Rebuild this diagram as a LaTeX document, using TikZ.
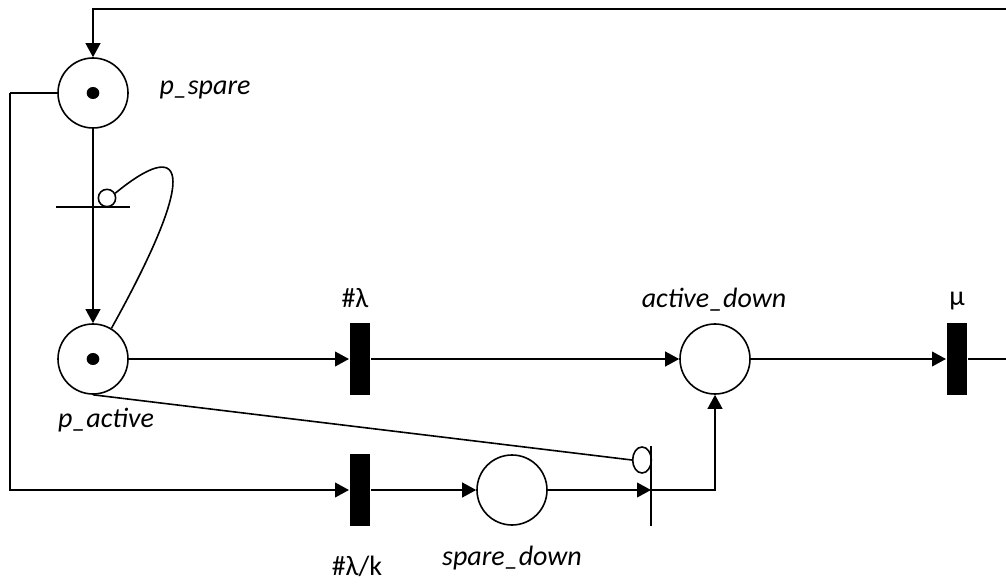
\documentclass[tikz,border=0pt]{standalone}
\usepackage{fontspec}
\setmainfont{Carlito}
\usetikzlibrary{arrows.meta,shapes.geometric}
\begin{document}
\begin{tikzpicture}[x=0.75pt,y=-0.75pt,
  line width=1.5pt,
  place/.style={circle,draw,line width=1.2pt,minimum size=52.5pt,inner sep=0pt},
  timed/.style={rectangle,fill=black,minimum width=15pt,minimum height=54pt,inner sep=0pt},
  token/.style={ellipse,fill=black,minimum width=9.5pt,minimum height=9pt,inner sep=0pt},
  arc/.style={-{Triangle[length=10.5pt,width=11pt]}},
  lbl/.style={font=\fontsize{21pt}{24pt}\selectfont,anchor=base,inner sep=0pt},
  ilbl/.style={lbl,font=\fontsize{21pt}{24pt}\selectfont\itshape}]
\useasboundingbox (0,0) rectangle (1006,584);

% places
\node[place] (ps) at (93,93) {};
\node[place] (pa) at (93,359) {};
\node[place] (ad) at (715,359) {};
\node[place] (sd) at (512,490) {};
\node[token] at (ps) {};
\node[token] at (pa) {};

% timed transitions
\node[timed] (tl) at (360,359) {};
\node[timed] (tk) at (360,490) {};
\node[timed] (mu) at (957,359) {};

% immediate transitions (thin bars)
\node[minimum width=54pt,minimum height=0pt,inner sep=0pt] (ta) at (93,207) {};
\draw[line width=1.2pt] (ta.west) -- (ta.east);
\node[minimum width=0pt,minimum height=58.5pt,inner sep=0pt] (ti) at (651,486) {};
\draw[line width=1.2pt] (ti.north) -- (ti.south);

% inhibitor heads
\node[circle,draw,line width=1.2pt,minimum size=13pt,inner sep=0pt,fill=white] (ih1) at (107,198) {};
\node[ellipse,draw,line width=1.2pt,minimum width=14pt,minimum height=19.5pt,inner sep=0pt] (ih2) at (642,460) {};

% labels
\node[ilbl] at (205,95) {p\_spare};
\node[ilbl] at (106,427) {p\_active};
\node[ilbl] at (714,308) {active\_down};
\node[ilbl] at (512,565) {spare\_down};
\node[lbl] at (355,308) {\#λ};
\node[lbl] at (357,575) {\#λ/k};
\node[lbl] at (957,306) {μ};

% helper coordinates at the edges
\coordinate (topR) at (1006,9);
\coordinate (midR) at (1006,359);
\coordinate (leftX) at (10,0);

% arcs
\draw[arc] (topR) -| (ps.north);
\draw[arc] (ps.south) -- (pa.north);
\draw (ps.west) -- (ps.west -| leftX);
\draw[arc] (ps.west -| leftX) |- (tk.west);
\draw[arc] (pa.east) -- (tl.west);
\draw[arc] (tl.east) -- (ad.west);
\draw[arc] (ad.east) -- (mu.west);
\draw (mu.east) -- (midR);
\draw[arc] (tk.east) -- (sd.west);
\draw[arc] (sd.east) -- (ti.center |- sd.center);
\draw[arc] (ti.center |- sd.center) -| (ad.south);

% inhibitor arcs
\draw[line width=1.2pt] (pa.59) .. controls (205,160) and (180,140) .. (ih1.30);
\draw[line width=1.2pt] (pa.south) -- (ih2.west);
\end{tikzpicture}
\end{document}
